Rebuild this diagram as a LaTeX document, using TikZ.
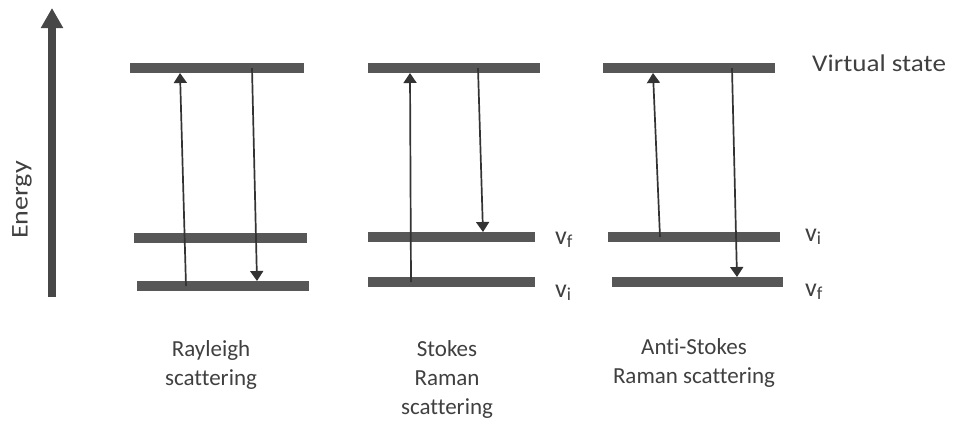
\documentclass[tikz,border=0pt]{standalone}
\usepackage{fontspec}
\setmainfont{Carlito}[Ligatures=NoCommon]
\usetikzlibrary{arrows.meta}
\begin{document}
\begin{tikzpicture}[x=1pt,y=-1pt,
  level/.style={draw=none,fill=black!66,inner sep=0pt,minimum height=10pt},
  trans/.style={line width=1.7pt,draw=black!80,-{Triangle[width=13pt,length=10pt]}},
  lbl/.style={font=\fontsize{23}{29}\selectfont,text=black!75,align=center},
  vlab/.style={font=\fontsize{26}{30}\selectfont,text=black!75,anchor=base west,inner sep=0pt}]
\useasboundingbox (0,0) rectangle (954,432);
% energy axis
\coordinate (e0) at (52,297);
\coordinate (e1) at (52,8);
\draw[line width=7.5pt,draw=black!72,-{Triangle[width=21pt,length=20pt]}] (e0) -- (e1);
\node[font=\fontsize{24}{29}\selectfont,text=black!75,rotate=90] (energy) at (22,200) {\scalebox{1.17}[1]{Energy}};
% Rayleigh levels
\node[level,minimum width=174pt] (r3) at (217,68) {};
\node[level,minimum width=173pt] (r2) at (220.5,238) {};
\node[level,minimum width=172pt] (r1) at (223,286) {};
% Stokes levels
\node[level,minimum width=172pt] (s3) at (454,68) {};
\node[level,minimum width=167pt] (s2) at (451.5,237) {};
\node[level,minimum width=167pt] (s1) at (451.5,282) {};
% Anti-Stokes levels
\node[level,minimum width=172pt] (a3) at (689,68) {};
\node[level,minimum width=172pt] (a2) at (694,237) {};
\node[level,minimum width=171pt] (a1) at (697.5,282) {};
% Rayleigh transitions
\coordinate (ru0) at (186,286); \coordinate (ru1) at (180,73);
\coordinate (rd0) at (252,68);  \coordinate (rd1) at (257,281);
\draw[trans] (ru0) -- (ru1);
\draw[trans] (rd0) -- (rd1);
% Stokes transitions
\coordinate (su0) at (411,282); \coordinate (su1) at (410,73);
\coordinate (sd0) at (478,68);  \coordinate (sd1) at (483,232);
\draw[trans] (su0) -- (su1);
\draw[trans] (sd0) -- (sd1);
% Anti-Stokes transitions
\coordinate (au0) at (660,237); \coordinate (au1) at (653,73);
\coordinate (ad0) at (732,68);  \coordinate (ad1) at (737,277);
\draw[trans] (au0) -- (au1);
\draw[trans] (ad0) -- (ad1);
% level labels
\node[font=\fontsize{24}{28}\selectfont,text=black!75,anchor=base west,inner sep=0pt] (vs) at (812,71) {\scalebox{1.13}[1]{Virtual state}};
\node[vlab] (svf) at (555,244) {v\textsubscript{f}};
\node[vlab] (svi) at (555,297) {v\textsubscript{i}};
\node[vlab] (avi) at (805,241) {v\textsubscript{i}};
\node[vlab] (avf) at (805,296) {v\textsubscript{f}};
% captions
\node[lbl,anchor=north] (cr) at (211,337) {Rayleigh\\scattering};
\node[lbl,anchor=north] (cs) at (447,337) {Stokes\\Raman\\scattering};
\node[lbl,anchor=north] (ca) at (694,335) {Anti-Stokes\\Raman scattering};
\end{tikzpicture}
\end{document}
